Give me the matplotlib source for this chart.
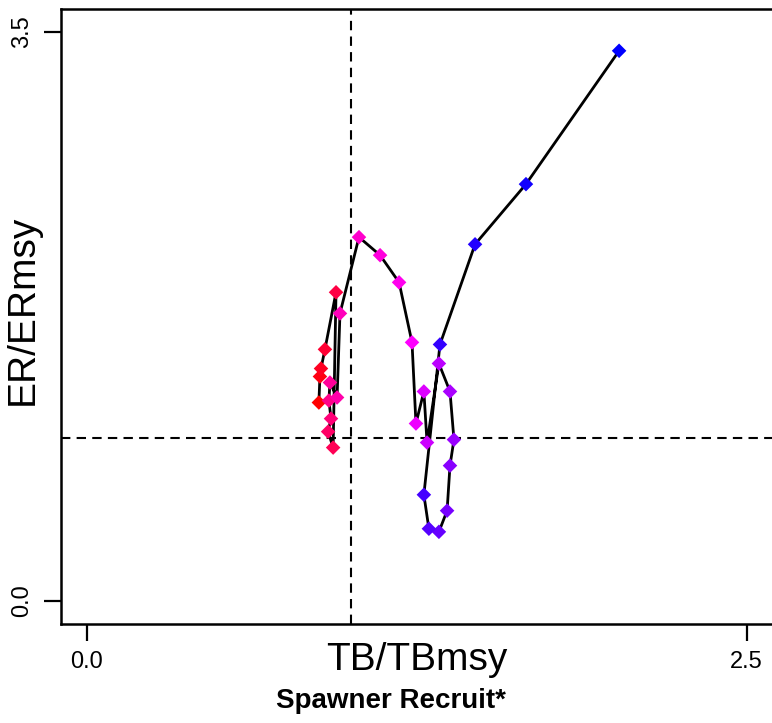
import numpy as np
import matplotlib
matplotlib.use('Agg')
import matplotlib.pyplot as plt
from matplotlib.colors import hsv_to_rgb

plt.rcParams['font.family'] = ['Liberation Sans', 'DejaVu Sans']

# TB/TBmsy and ER/ERmsy, in time order
tb = [0.879, 0.883, 0.887, 0.902, 0.944, 0.933, 0.914, 0.925, 0.917, 0.921,
      0.948, 0.959, 1.031, 1.111, 1.183, 1.232, 1.247, 1.277, 1.289, 1.334,
      1.376, 1.391, 1.376, 1.365, 1.334, 1.296, 1.277, 1.338, 1.471, 1.664,
      2.017]
er = [1.220, 1.380, 1.429, 1.547, 1.898, 0.943, 1.041, 1.121, 1.232, 1.343,
      1.251, 1.768, 2.237, 2.126, 1.959, 1.590, 1.091, 1.288, 0.974, 1.460,
      1.288, 0.992, 0.832, 0.555, 0.425, 0.444, 0.653, 1.577, 2.193, 2.563,
      3.383]
x_ticks = [0.0, 2.5]
y_ticks = [0.0, 3.5]
ref_tb = 1.0
ref_er = 1.0


def point_colours(n):
    '''red -> magenta -> blue along the hue wheel'''
    hues = np.linspace(1.0, 2.0 / 3.0, n)
    hsv = np.column_stack([hues, np.ones(n), np.ones(n)])
    return hsv_to_rgb(hsv)


fig = plt.figure(figsize=(7.72, 7.23), dpi=100)
# axes box runs a little past the right edge of the picture
ax = fig.add_axes([60.6 / 772, 1 - 623.7 / 723, 712.3 / 772, 614.7 / 723])

ax.plot(tb, er, color='black', lw=2.0, zorder=2)
ax.scatter(tb, er, marker='D', s=55, c=point_colours(len(tb)),
           edgecolors='none', zorder=3)

ax.axvline(ref_tb, color='black', lw=1.5, ls=(0, (4.5, 3)), zorder=1)
ax.axhline(ref_er, color='black', lw=1.5, ls=(0, (4.5, 3)), zorder=1)

ax.set_xlim(-0.1, 2.6)
ax.set_ylim(-0.14, 3.64)
ax.set_xticks(x_ticks)
ax.set_xticklabels(['0.0', '2.5'], fontsize=17)
ax.set_yticks(y_ticks)
ax.set_yticklabels(['0.0', '3.5'], fontsize=17, rotation=90, va='center')
ax.tick_params(length=12, width=1.6, pad=8)

for sp in ax.spines.values():
    sp.set_linewidth(1.8)

# axis titles sit close in, as in the original layout
fig.text(417 / 772, 1 - 670 / 723, 'TB/TBmsy', fontsize=28,
         ha='center', va='baseline')
fig.text(23 / 772, 1 - 310 / 723, 'ER/ERmsy', fontsize=28,
         ha='center', va='center', rotation=90)
fig.text(391 / 772, 1 - 701 / 723, 'Spawner Recruit*', fontsize=20,
         fontweight='bold', ha='center', va='center')

fig.savefig('out.png', dpi=100)
